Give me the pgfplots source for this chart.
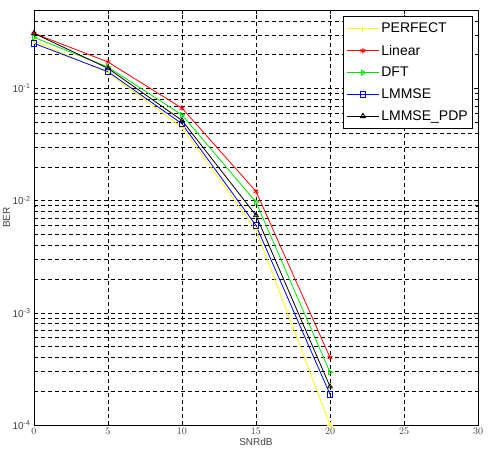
\documentclass[border=0pt]{standalone}
\usepackage{fontspec}
\setmainfont{Liberation Sans}
\setsansfont{Liberation Sans}
\usepackage{pgfplots}
\pgfplotsset{compat=1.18}
\definecolor{myyellow}{RGB}{255,255,0}
\definecolor{mygreen}{RGB}{0,230,0}
\begin{document}
\begin{tikzpicture}
\begin{axis}[
  at={(0pt,0pt)}, anchor=south west,
  scale only axis,
  width=444pt, height=415pt,
  ymode=log,
  xmin=0, xmax=30, ymin=1e-4, ymax=0.5,
  xtick={0,5,...,30},
  ytick={1e-4,1e-3,1e-2,1e-1},
  yticklabels={10\textsuperscript{-4},10\textsuperscript{-3},10\textsuperscript{-2},10\textsuperscript{-1}},
  minor ytick={2e-4,3e-4,4e-4,5e-4,6e-4,7e-4,8e-4,9e-4,2e-3,3e-3,4e-3,5e-3,6e-3,7e-3,8e-3,9e-3,2e-2,3e-2,4e-2,5e-2,6e-2,7e-2,8e-2,9e-2,0.2,0.3,0.4,0.5},
  grid=both,
  major grid style={black, line width=0.6pt, dash pattern=on 4pt off 3pt},
  minor grid style={black, line width=0.6pt, dash pattern=on 4pt off 3pt},
  tick align=inside,
  major tick length=4pt, minor tick length=2pt,
  tick style={black, line width=0.5pt},
  axis line style={black, line width=0.8pt},
  ticklabel style={font=\fontsize{10}{12}\selectfont, text=black!75},
  xlabel={SNRdB}, ylabel={BER},
  label style={font=\fontsize{10}{12}\selectfont, text=black!75},
  xlabel style={yshift=4pt},
  ylabel style={yshift=-4pt},
  legend cell align=left,
  legend style={at={(rel axis cs:0.989,0.986)}, anchor=north east,
    draw=black, line width=0.8pt, font=\fontsize{14}{16}\selectfont,
    row sep=6.5pt, inner xsep=3pt, inner ysep=5pt},
  legend image code/.code={\draw[#1, line width=0.9pt, mark repeat=2, mark phase=2] plot coordinates {(0pt,0pt) (16pt,0pt) (32pt,0pt)};},
  every axis plot/.append style={line width=0.8pt},
]
\addplot[myyellow, mark=+, mark size=2.8pt] coordinates {(0,0.265) (5,0.138) (10,0.045) (15,0.0055) (20,0.0001)};
\addlegendentry{PERFECT}
\addplot[red, mark=asterisk, mark size=2.8pt] coordinates {(0,0.31) (5,0.172) (10,0.0667) (15,0.0121) (20,0.0004)};
\addlegendentry{Linear}
\addplot[mygreen, mark=triangle, mark options={rotate=-90}, mark size=2.8pt] coordinates {(0,0.285) (5,0.155) (10,0.058) (15,0.0097) (20,0.000295)};
\addlegendentry{DFT}
\addplot[blue, mark=square, mark size=2.8pt] coordinates {(0,0.252) (5,0.141) (10,0.0484) (15,0.0060) (20,0.000188)};
\addlegendentry{LMMSE}
\addplot[black, mark=triangle, mark size=2.8pt] coordinates {(0,0.31) (5,0.151) (10,0.0518) (15,0.0074) (20,0.00022)};
\addlegendentry{LMMSE\_PDP}
\end{axis}
\pgfresetboundingbox
\path[use as bounding box] (-34pt,-35pt) rectangle (454pt,425pt);
\end{tikzpicture}
\end{document}
